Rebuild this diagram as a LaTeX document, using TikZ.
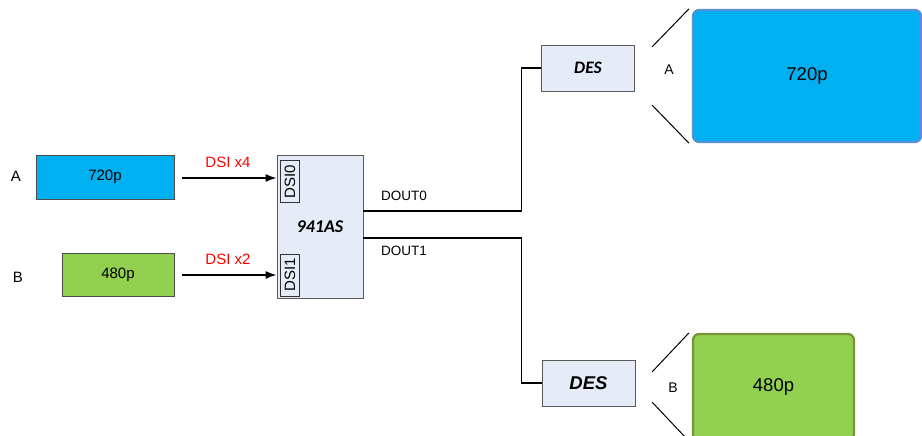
\documentclass[tikz,border=0pt]{standalone}
\usepackage{fontspec}
\setmainfont{Liberation Sans}
\newfontfamily\calfont{Carlito}
\usepackage{tikz}
\usetikzlibrary{positioning,arrows.meta}
\tikzset{>={Latex[length=11pt,width=8pt]}}
\definecolor{vidblue}{HTML}{00B0F0}
\definecolor{vidgreen}{HTML}{92D050}
\definecolor{chipfill}{HTML}{E6ECF7}
\definecolor{bluerim}{HTML}{5B8ED6}
\definecolor{greenrim}{HTML}{77933C}
\tikzset{
  src/.style={draw=black!70,line width=0.8pt,inner sep=0pt,font=\fontsize{15}{17}\selectfont},
  chip/.style={draw=black!65,fill=chipfill,line width=0.8pt,inner sep=0pt},
  port/.style={draw=black!80,fill=chipfill,line width=0.8pt,inner sep=0pt,minimum width=19pt,minimum height=42pt},
  disp/.style={rounded corners=6pt,line width=2.2pt,inner sep=0pt,font=\fontsize{18.5}{21}\selectfont},
  tag/.style={font=\fontsize{15}{17}\selectfont},
  wire/.style={line width=1.5pt}
}

\begin{document}
\begin{tikzpicture}[x=1pt,y=-1pt]
\useasboundingbox (0,0) rectangle (922,436);
% sources
\node[src,fill=vidblue,minimum width=138pt,minimum height=44pt] (srcA) at (105,177) {720p};
\node[src,fill=vidgreen,minimum width=112pt,minimum height=43pt] (srcB) at (118,274.5) {480p};
\node[tag] (labA) at (16,176) {A};
\node[tag] (labB) at (18,277) {B};
% serializer
\node[chip,minimum width=86pt,minimum height=143pt,font=\calfont\fontsize{18}{20}\selectfont\bfseries\itshape] (ser) at (320,226.5) {941AS};
\node[port] (dsi0) at (290,181.5) {\rotatebox{90}{\fontsize{15}{17}\selectfont DSI0}};
\node[port] (dsi1) at (290,275) {\rotatebox{90}{\fontsize{15}{17}\selectfont DSI1}};
\coordinate (inA) at (182,178);
\coordinate (inB) at (182,275);
\draw[wire,->] (inA) -- (ser.west |- inA);
\draw[wire,->] (inB) -- (ser.west |- inB);
\node[tag,text=red] (rateA) at (228,162) {DSI x4};
\node[tag,text=red] (rateB) at (228,259) {DSI x2};
% deserializers
\node[chip,minimum width=93pt,minimum height=46pt,font=\calfont\fontsize{17.5}{19}\selectfont\bfseries\itshape] (desA) at (588,68) {DES};
\node[chip,minimum width=93pt,minimum height=46pt,font=\fontsize{18.5}{20}\selectfont\bfseries\itshape] (desB) at (588.5,383) {DES};
\draw[wire] ([yshift=15.5pt]ser.east) -- ++(158,0) |- (desA.west);
\draw[wire] ([yshift=-11.5pt]ser.east) -- ++(158,0) |- (desB.west);
\node[font=\fontsize{13.5}{15}\selectfont] (out0) at (404,196) {DOUT0};
\node[font=\fontsize{13.5}{15}\selectfont] (out1) at (404,251) {DOUT1};
% displays
\node[disp,draw=bluerim,fill=vidblue,minimum width=228pt,minimum height=132pt] (dispA) at (807,76) {720p};
\node[disp,draw=greenrim,fill=vidgreen,minimum width=161pt,minimum height=106pt] (dispB) at (773.5,387) {480p};
\coordinate (zA1) at (652,47);
\coordinate (zA2) at (652,105);
\coordinate (zB1) at (652,372);
\coordinate (zB2) at (652,402);
\draw[line width=1pt] (zA1) -- ([xshift=-3pt]dispA.north west);
\draw[line width=1pt] (zA2) -- ([xshift=-3pt]dispA.south west);
\draw[line width=1pt] (zB1) -- ([xshift=-3pt]dispB.north west);
\draw[line width=1pt] (zB2) -- ([xshift=-3pt]dispB.south west);
\node[font=\fontsize{14}{16}\selectfont] (labA2) at (669,70) {A};
\node[font=\fontsize{14}{16}\selectfont] (labB2) at (673,388) {B};
\end{tikzpicture}
\end{document}
